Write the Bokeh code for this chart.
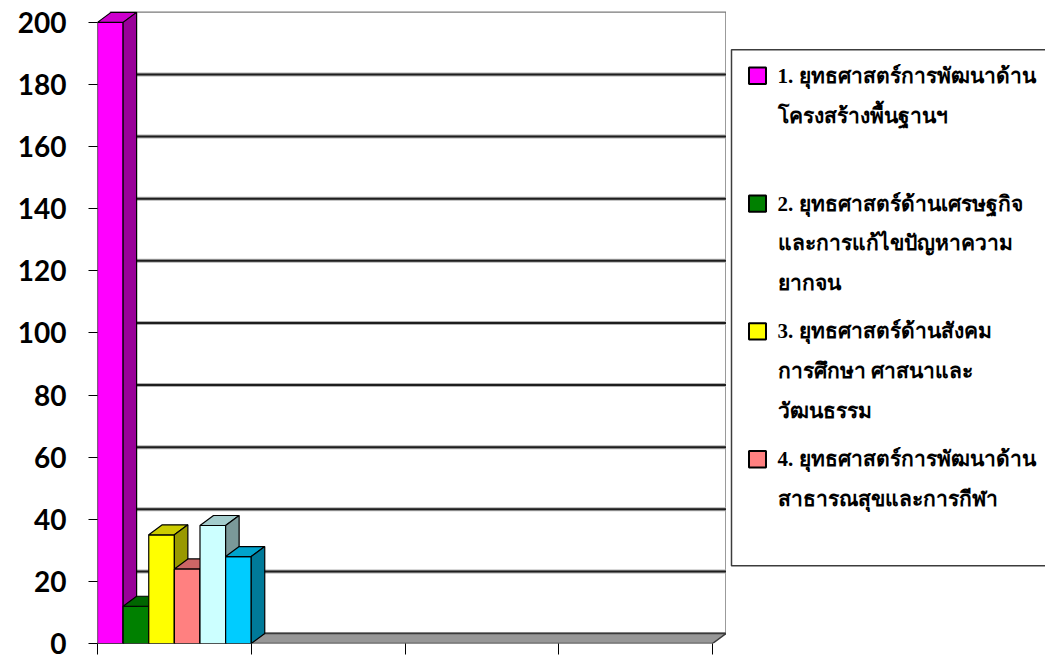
from bokeh.plotting import figure
from bokeh.layouts import row
from bokeh.models import Range1d, FixedTicker
from bokeh.core.properties import value
from bokeh.embed import file_html
from bokeh.resources import INLINE

# ---------------- data ----------------
n_groups = 4                      # category slots on the x axis (unlabelled)
series_values = [200, 12, 35, 24, 38, 28]
series_colors = ["#FF00FF", "#008000", "#FFFF00", "#FF8080", "#CCFFFF", "#00CCFF"]
legend_labels = [
    "1. ยุทธศาสตร์การพัฒนาด้าน\nโครงสร้างพื้นฐานฯ",
    "2. ยุทธศาสตร์ด้านเศรษฐกิจ\nและการแก้ไขปัญหาความ\nยากจน",
    "3. ยุทธศาสตร์ด้านสังคม\nการศึกษา ศาสนาและ\nวัฒนธรรม",
    "4. ยุทธศาสตร์การพัฒนาด้าน\nสาธารณสุขและการกีฬา",
]
y_ticks = [0, 20, 40, 60, 80, 100, 120, 140, 160, 180, 200]

# ---------------- geometry ----------------
LEFT, TOP, BOTTOM = 97, 11, 16
FRAME_W, FRAME_H = 629, 632
DX_PX, DY_PX = 13.5, 10.0
x_end = n_groups + 0.091
y_end = 203.5
px_x = FRAME_W / x_end
px_y = FRAME_H / y_end
dx = DX_PX / px_x
dy = DY_PX / px_y


def shade(hexcol, f):
    r, g, b = int(hexcol[1:3], 16), int(hexcol[3:5], 16), int(hexcol[5:7], 16)
    return "#%02x%02x%02x" % (int(r * f), int(g * f), int(b * f))


p = figure(width=LEFT + FRAME_W, height=TOP + FRAME_H + BOTTOM,
           x_range=Range1d(0, x_end), y_range=Range1d(0, y_end),
           output_backend="svg", toolbar_location=None,
           min_border_left=LEFT, min_border_right=0, min_border_top=TOP,
           min_border_bottom=BOTTOM)
p.outline_line_color = None
p.grid.visible = False
p.background_fill_color = "white"
p.border_fill_color = "white"

# back wall
p.quad(left=[dx], right=[x_end], bottom=[dy], top=[y_end],
       fill_color="white", line_color="#7a7a7a", line_width=2.5)
# gridlines on back wall
gx = [[dx, x_end] for t in y_ticks[1:-1]]
gy = [[t + dy, t + dy] for t in y_ticks[1:-1]]
p.multi_line(gx, gy, line_color="#b0b0b0", line_width=4)
p.multi_line(gx, gy, line_color="#1e1e1e", line_width=2)
# floor
p.patch([0, n_groups, n_groups + dx, dx], [0, 0, dy, dy],
        fill_color="#979797", line_color="#3a3a3a", line_width=1.5)

# 3D bars (first category slot)
nb = len(series_values)
w = 1.0 / nb
xs, ys, fills = [], [], []
for i, (v, c) in enumerate(zip(series_values, series_colors)):
    l, r = i * w, (i + 1) * w
    xs.append([l, r, r, l]); ys.append([0, 0, v, v]); fills.append(c)
    xs.append([l, l + dx, r + dx, r]); ys.append([v, v + dy, v + dy, v]); fills.append(shade(c, 0.8))
    xs.append([r, r + dx, r + dx, r]); ys.append([0, dy, v + dy, v]); fills.append(shade(c, 0.6))
p.patches(xs, ys, fill_color=fills, line_color="black", line_width=1.2)

# axes
x_tick_pos = list(range(n_groups + 1))
p.xaxis.ticker = FixedTicker(ticks=x_tick_pos)
p.xaxis.major_label_overrides = {t: "" for t in x_tick_pos}
p.xaxis.axis_line_color = None
p.xaxis.major_tick_in = 0
p.xaxis.major_tick_out = 11
p.xaxis.major_tick_line_color = "black"
p.xaxis.minor_tick_line_color = None
p.xaxis.major_label_text_font_size = "2px"
p.xaxis.major_label_standoff = 0

p.yaxis.ticker = FixedTicker(ticks=y_ticks)
p.yaxis.axis_line_color = None
p.yaxis.major_tick_in = 0
p.yaxis.major_tick_out = 9
p.yaxis.major_tick_line_color = "black"
p.yaxis.minor_tick_line_color = None
p.yaxis.major_label_text_font = "Lato"
p.yaxis.major_label_text_font_style = "bold"
p.yaxis.major_label_text_font_size = "28px"
p.yaxis.major_label_text_color = "black"
p.yaxis.major_label_standoff = 22

# ---------------- legend panel ----------------
LW, LH = 319, TOP + FRAME_H + BOTTOM
q = figure(width=LW, height=LH, x_range=Range1d(0, LW), y_range=Range1d(LH, 0),
           output_backend="svg", toolbar_location=None,
           min_border=0, min_border_left=0, min_border_right=0,
           min_border_top=0, min_border_bottom=0)
q.axis.visible = False
q.grid.visible = False
q.outline_line_color = None
q.quad(left=[5], right=[LW + 20], top=[40], bottom=[578],
       fill_color="white", line_color="#3c3c3c", line_width=1.5)

ITEM_STEP, LINE_STEP, FIRST = 133.3, 41.5, 67
tx, ty, tt = [], [], []
sx, sy, sc = [], [], []
for i, lab in enumerate(legend_labels):
    y0 = FIRST + ITEM_STEP * i
    sx.append(31); sy.append(y0); sc.append(series_colors[i])
    for j, line in enumerate(lab.split("\n")):
        tx.append(51); ty.append(y0 + LINE_STEP * j); tt.append(line)
q.rect(sx, sy, width=17, height=17, fill_color=sc, line_color="black", line_width=2)
q.text(tx, ty, text=tt, text_font=value("Liberation Serif"), text_font_style="bold",
       text_font_size="21px", text_baseline="middle", text_align="left", text_color="black")

layout = row(p, q)
open("out.html", "w").write(file_html(layout, INLINE))
